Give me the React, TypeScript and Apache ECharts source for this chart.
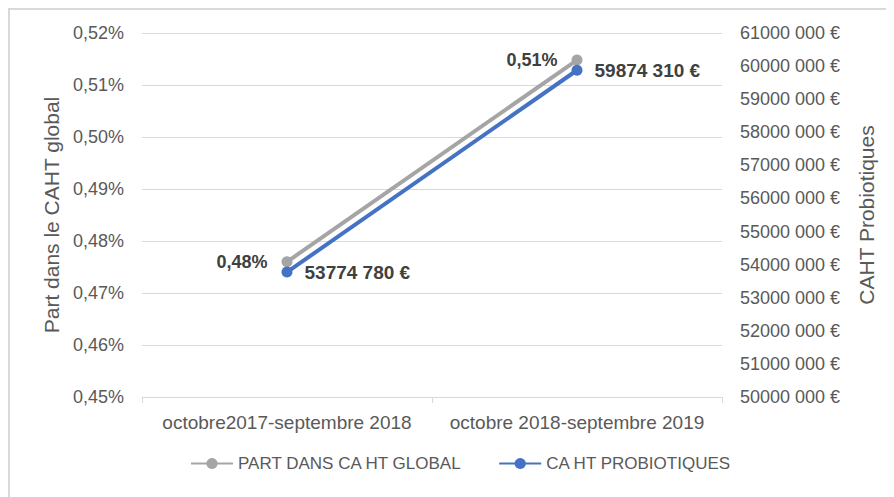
import React, { useEffect, useRef } from "react";
import * as echarts from "echarts";

const categories = ["octobre2017-septembre 2018", "octobre 2018-septembre 2019"];
const partValues = [0.476, 0.5148];
const caValues = [53774780, 59874310];
const seriesNames = ["PART DANS CA HT GLOBAL", "CA HT PROBIOTIQUES"];

const FONT = "Liberation Sans";

const fmtEuro = (v: number) => {
  const n = Math.round(v);
  const hi = Math.floor(n / 1000);
  const lo = String(n % 1000).padStart(3, "0");
  return `${hi} ${lo} €`;
};
const fmtPct = (v: number) => v.toFixed(2).replace(".", ",") + "%";

export default function App() {
  const ref = useRef<HTMLDivElement>(null);
  useEffect(() => {
    if (!ref.current) return;
    const chart = echarts.init(ref.current, undefined, { renderer: "svg" });
    chart.setOption({
      animation: false,
      textStyle: { fontFamily: FONT },
      grid: { left: 132, right: 172, top: 23, bottom: 100, outerBoundsMode: "none" },
      legend: {
        data: seriesNames,
        bottom: 20,
        left: 175,
        itemWidth: 42,
        itemHeight: 14,
        itemGap: 36,
        textStyle: { color: "#595959", fontSize: 17, fontFamily: FONT },
      },
      xAxis: {
        type: "category",
        data: categories,
        boundaryGap: true,
        axisLine: { lineStyle: { color: "#d9d9d9", width: 1 } },
        axisTick: { show: true, length: 6, lineStyle: { color: "#d9d9d9" } },
        axisLabel: { color: "#595959", fontSize: 19, margin: 16, interval: 0, fontFamily: FONT },
        splitLine: { show: false },
      },
      yAxis: [
        {
          type: "value",
          min: 0.45,
          max: 0.52,
          interval: 0.01,
          name: "Part dans le CAHT global",
          nameLocation: "middle",
          nameRotate: 90,
          nameGap: 80,
          nameTextStyle: { color: "#595959", fontSize: 21, fontFamily: FONT },
          axisLine: { show: false },
          axisTick: { show: false },
          axisLabel: { color: "#595959", fontSize: 18, margin: 18, formatter: fmtPct, fontFamily: FONT },
          splitLine: { lineStyle: { color: "#d9d9d9", width: 1 } },
        },
        {
          type: "value",
          min: 50000000,
          max: 61000000,
          interval: 1000000,
          name: "CAHT Probiotiques",
          nameLocation: "middle",
          nameRotate: 90,
          nameGap: 134,
          nameTextStyle: { color: "#595959", fontSize: 21, fontFamily: FONT },
          axisLine: { show: false },
          axisTick: { show: false },
          axisLabel: { color: "#595959", fontSize: 18, margin: 18, formatter: fmtEuro, fontFamily: FONT },
          splitLine: { show: false },
        },
      ],
      series: [
        {
          name: seriesNames[0],
          type: "line",
          yAxisIndex: 0,
          data: partValues,
          color: "#a5a5a5",
          symbol: "circle",
          symbolSize: 11,
          lineStyle: { width: 4, color: "#a5a5a5" },
          itemStyle: { color: "#a5a5a5" },
          label: {
            show: true,
            position: "left",
            distance: 14,
            color: "#404040",
            fontWeight: "bold",
            fontSize: 18,
            fontFamily: FONT,
            formatter: (p: any) => fmtPct(p.value),
          },
        },
        {
          name: seriesNames[1],
          type: "line",
          yAxisIndex: 1,
          data: caValues,
          color: "#4472c4",
          symbol: "circle",
          symbolSize: 11,
          lineStyle: { width: 4, color: "#4472c4" },
          itemStyle: { color: "#4472c4" },
          label: {
            show: true,
            position: "right",
            distance: 12,
            color: "#404040",
            fontWeight: "bold",
            fontSize: 19,
            fontFamily: FONT,
            formatter: (p: any) => fmtEuro(p.value),
          },
        },
      ],
    });
    return () => chart.dispose();
  }, []);
  return (
    <div
      style={{
        width: 886,
        height: 489,
        borderTop: "2px solid #d9d9d9",
        borderLeft: "2px solid #d9d9d9",
        boxSizing: "border-box",
        background: "#fff",
      }}
    >
      <div ref={ref} style={{ width: 884, height: 487 }} />
    </div>
  );
}
